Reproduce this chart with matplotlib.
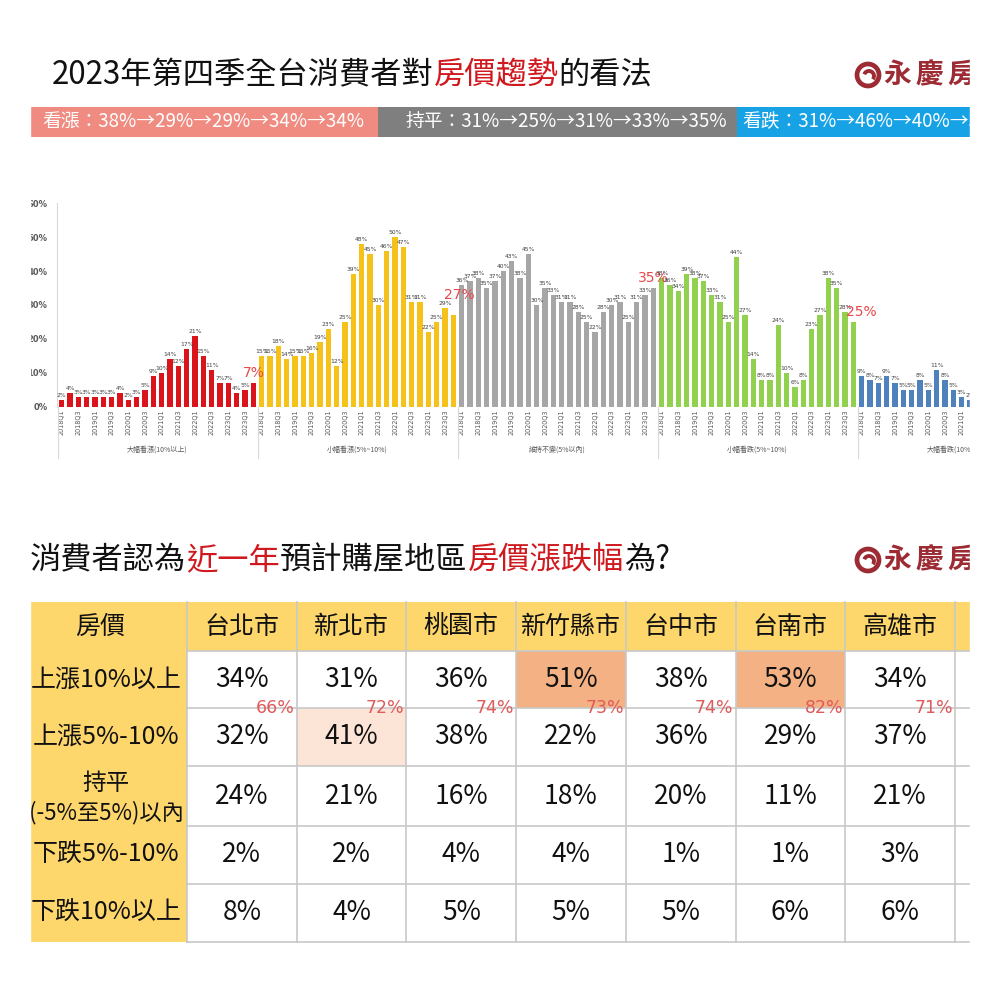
import matplotlib
matplotlib.use('Agg')
import matplotlib.pyplot as plt
from matplotlib.patches import Rectangle, Circle, Arc

plt.rcParams['font.family'] = ['Noto Sans CJK TC', 'DejaVu Sans']

# ---- data: top chart (quarterly share of each opinion, %)
quarters = ['2018Q1', '2018Q2', '2018Q3', '2018Q4', '2019Q1', '2019Q2', '2019Q3', '2019Q4',
            '2020Q1', '2020Q2', '2020Q3', '2020Q4', '2021Q1', '2021Q2', '2021Q3', '2021Q4',
            '2022Q1', '2022Q2', '2022Q3', '2022Q4', '2023Q1', '2023Q2', '2023Q3', '2023Q4']
groups = ['大幅看漲(10%以上)', '小幅看漲(5%~10%)', '維持不變(5%以內)', '小幅看跌(5%~10%)', '大幅看跌(10%以上)']
big_up = [2, 4, 3, 3, 3, 3, 3, 4, 2, 3, 5, 9, 10, 14, 12, 17, 21, 15, 11, 7, 7, 4, 5, 7]
small_up = [15, 15, 18, 14, 15, 15, 16, 19, 23, 12, 25, 39, 48, 45, 30, 46, 50, 47, 31, 31, 22, 25, 29, 27]
flat = [36, 37, 38, 35, 37, 40, 43, 38, 45, 30, 35, 33, 31, 31, 28, 25, 22, 28, 30, 31, 25, 31, 33, 35]
small_down = [38, 36, 34, 39, 38, 37, 33, 31, 25, 44, 27, 14, 8, 8, 24, 10, 6, 8, 23, 27, 38, 35, 28, 25]
big_down = [9, 8, 7, 9, 7, 5, 5, 8, 5, 11, 8, 5, 3, 2]   # rest is cut off in the picture
series = [big_up, small_up, flat, small_down, big_down]
bar_colors = ['#d9141b', '#f4c21b', '#a6a6a6', '#92d050', '#4f81bd']

strip_texts = ['看漲：38%→29%→29%→34%→34%',
               '持平：31%→25%→31%→33%→35%',
               '看跌：31%→46%→40%→33%→31%']
strip_colors = ['#ef8b80', '#7f7f7f', '#17a2e6']

# ---- data: table
cities = ['台北市', '新北市', '桃園市', '新竹縣市', '台中市', '台南市', '高雄市', '']
row_labels = ['上漲10%以上', '上漲5%-10%', '持平', '下跌5%-10%', '下跌10%以上']
up10 = [34, 31, 36, 51, 38, 53, 34]
up5 = [32, 41, 38, 22, 36, 29, 37]
flat_t = [24, 21, 16, 18, 20, 11, 21]
down5 = [2, 2, 4, 4, 1, 1, 3]
down10 = [8, 4, 5, 5, 5, 6, 6]
up_total = [66, 72, 74, 73, 74, 82, 71]
table_rows = [up10, up5, flat_t, down5, down10]

RED = '#d0191e'
LOGO = '#9c2b33'
YEL = '#fdd66c'

fig = plt.figure(figsize=(10, 10), dpi=100)
fig.patch.set_facecolor('white')
W = 1000

# background axes in pixel units
bg = fig.add_axes([0, 0, 1, 1], zorder=0)
bg.set_xlim(0, 1000)
bg.set_ylim(1000, 0)
bg.axis('off')
rend = fig.canvas.get_renderer()


def parts_text(x, y, parts, size, **kw):
    for s, c in parts:
        t = bg.text(x, y, s, color=c, fontsize=size, ha='left', va='center', **kw)
        x += t.get_window_extent(renderer=rend).width


def logo(cx, cy):
    bg.add_patch(Circle((cx, cy), 11, fill=False, ec=LOGO, lw=3.4))
    bg.add_patch(Arc((cx + 1, cy + 1), 10, 10, theta1=200, theta2=40, ec=LOGO, lw=2.8))
    for k, ch in enumerate('永慶房'):
        bg.text(cx + 15 + 32 * k, cy, ch, fontsize=20, fontweight='bold', color=LOGO,
                ha='left', va='center')


# ---- top title + strip
parts_text(52, 75, [('2023年第四季全台消費者對', '#111111'), ('房價趨勢', RED), ('的看法', '#111111')], 22.5)
logo(868, 75)
strip_x = [30, 378, 737, 1000]
strip_pad = [12, 27, 5]
for k in range(3):
    bg.add_patch(Rectangle((strip_x[k], 107), strip_x[k + 1] - strip_x[k], 30, color=strip_colors[k], lw=0))
    bg.text(strip_x[k] + strip_pad[k], 122, strip_texts[k], color='white', fontsize=13.5,
            ha='left', va='center')

# ---- bar chart
ax = fig.add_axes([57 / W, 1 - 407 / W, (970 - 57) / W, 204 / W], zorder=1)
for sp in ['top', 'right', 'bottom']:
    ax.spines[sp].set_visible(False)
ax.spines['left'].set_color('#d9d9d9')
ax.spines['left'].set_linewidth(0.8)
ax.set_yticks(range(0, 61, 10))
ax.set_yticklabels([f'{v}%' for v in range(0, 61, 10)], fontsize=6, fontweight='bold',
                   color='#595959', family='DejaVu Sans')
ax.tick_params(axis='y', length=0, pad=7)
ax.tick_params(axis='x', length=0, pad=2)

big_dx = [0, 0.7, 0, 0.9]
big_dy = [1.0, 4.0, 1.0, 0.8]
xt, xl = [], []
for g, vals in enumerate(series):
    xs = [24 * g + i for i in range(len(vals))]
    ax.bar(xs, vals, width=0.62, color=bar_colors[g], zorder=2)
    for i, (x, v) in enumerate(zip(xs, vals)):
        if g < 4 and i == 23:
            ax.text(x + big_dx[g], v + big_dy[g], f'{v}%', ha='center', va='bottom', fontsize=10,
                    color='#e8464a', family='DejaVu Sans', zorder=3)
        else:
            ax.text(x, v + 0.6, f'{v}%', ha='center', va='bottom', fontsize=4.3, color='#404040',
                    family='DejaVu Sans', zorder=3)
    for i in range(0, 24, 2):
        xt.append(24 * g + i)
        xl.append(quarters[i])
    ax.plot([24 * g - 0.5] * 2, [-15, 0], color='#d9d9d9', lw=0.8, clip_on=False)
    ax.text(24 * g + 11.5, -12.6, groups[g], ha='center', va='center', fontsize=5, color='#595959')
ax.set_xticks(xt)
ax.set_xticklabels(xl, rotation=90, fontsize=4.7, color='#595959', family='DejaVu Sans')
ax.set_xlim(-0.564, 109.0)
ax.set_ylim(0, 60)

# ---- bottom title
parts_text(30, 560, [('消費者認為', '#111111'), ('近一年', RED), ('預計購屋地區', '#111111'),
                     ('房價漲跌幅', RED), ('為?', '#111111')], 22.5)
logo(868, 560)

# ---- table
col_left, col_w = 187, 109.7
row_edges = [602, 651, 708, 766, 826, 884, 942]
ncol = len(cities)
tab_right = col_left + ncol * col_w
bg.add_patch(Rectangle((0, row_edges[0]), tab_right, row_edges[1] - row_edges[0], color=YEL, lw=0))
bg.add_patch(Rectangle((0, row_edges[1]), col_left, row_edges[-1] - row_edges[1], color=YEL, lw=0))
for (r, c, col) in [(0, 3, '#f4b183'), (0, 5, '#f4b183'), (1, 1, '#fce4d6')]:
    bg.add_patch(Rectangle((col_left + c * col_w, row_edges[r + 1]), col_w,
                           row_edges[r + 2] - row_edges[r + 1], color=col, lw=0))
for y in row_edges[1:]:
    bg.plot([col_left, tab_right], [y, y], color='#c8c8c8', lw=1.2)
for k in range(ncol + 1):
    x = col_left + k * col_w
    bg.plot([x, x], [row_edges[0], row_edges[-1]], color='#c8c8c8', lw=1.2)

hy = (row_edges[0] + row_edges[1]) / 2
bg.text(100, hy, '房價', fontsize=18, ha='center', va='center', color='#111111')
for c, name in enumerate(cities):
    bg.text(col_left + (c + 0.5) * col_w, hy, name, fontsize=18, ha='center', va='center', color='#111111')
for r, lab in enumerate(row_labels):
    cy = (row_edges[r + 1] + row_edges[r + 2]) / 2
    if lab == '持平':
        bg.text(106, cy - 13, lab, fontsize=17, ha='center', va='center', color='#111111')
        bg.text(106, cy + 17, '(-5%至5%)以內', fontsize=16, ha='center', va='center', color='#111111')
    else:
        bg.text(106, cy, lab, fontsize=18, ha='center', va='center', color='#111111')
    for c, v in enumerate(table_rows[r]):
        bg.text(col_left + (c + 0.5) * col_w, cy, f'{v}%', fontsize=19, ha='center', va='center',
                color='#111111')
for c, v in enumerate(up_total):
    bg.text(col_left + (c + 1) * col_w - 2, row_edges[2], f'{v}%', fontsize=12.5, ha='right',
            va='center', color='#e05a5a', family='DejaVu Sans')

# crop edges like the screenshot
fig.add_artist(Rectangle((0, 0), 30 / W, 1, transform=fig.transFigure, color='white', zorder=50))
fig.add_artist(Rectangle((970 / W, 0), 30 / W, 1, transform=fig.transFigure, color='white', zorder=50))

fig.savefig('out.png', dpi=100, facecolor='white')
